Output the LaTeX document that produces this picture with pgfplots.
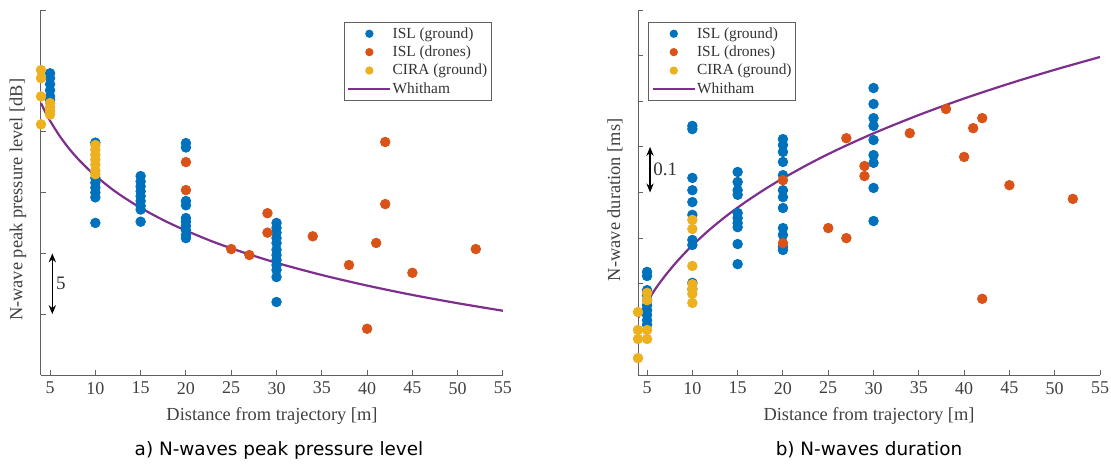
\documentclass[border=0pt]{standalone}
\usepackage{pgfplots}
\pgfplotsset{compat=1.18}
\usetikzlibrary{arrows.meta}
\usepackage{fontspec}
\setmainfont{Liberation Serif}
\newfontfamily\capfont{DejaVu Sans}

% MATLAB default colours
\definecolor{mblue}{rgb}{0,0.447,0.741}
\definecolor{morange}{rgb}{0.85,0.325,0.098}
\definecolor{myellow}{rgb}{0.929,0.694,0.125}
\definecolor{mpurple}{rgb}{0.494,0.184,0.556}
\definecolor{axgray}{rgb}{0.38,0.38,0.38}

\tikzset{
  dimarrow/.style={{Stealth[length=4.5pt,width=3.6pt]}-{Stealth[length=4.5pt,width=3.6pt]}, line width=0.7pt},
}

\pgfplotsset{
  matax/.style={
    scale only axis,
    width=231pt, height=182.5pt,
    xmin=4, xmax=55,
    enlargelimits=false,
    axis lines=left,
    axis line style={-, axgray, line width=0.5pt},
    major tick style={axgray, line width=0.5pt},
    major tick length=2.5pt,
    tick align=inside,
    xtick={5,10,...,55},
    tick label style={font=\fontsize{9}{10}\selectfont, text=black!75,
      /pgf/number format/assume math mode=true},
    label style={font=\fontsize{9.2}{10}\selectfont, text=black!75},
    xlabel={Distance from trajectory [m]},
    ylabel style={at={(axis description cs:-0.05,0.48)}, anchor=center, rotate=0},
    legend cell align=left,
    legend style={draw=axgray, line width=0.5pt, fill=white,
      font=\fontsize{7.7}{8}\selectfont, text=black!80,
      inner xsep=1.5pt, inner ysep=1pt, row sep=0pt,
      nodes={inner sep=0.6pt, text height=6.2pt, text depth=1.8pt}},
  },
  dots/.style={only marks, mark=*, mark size=2.4pt, color=#1,
    legend image code/.code={\draw[mark size=1.8pt] plot[mark=*, only marks] coordinates {(10.5pt,0pt)};}},
  whit/.style={mpurple, line width=1.1pt, no markers,
    legend image code/.code={\draw[mpurple, line width=1.1pt] (0pt,0pt) -- (21pt,0pt);}},
}

\begin{document}
\begin{tikzpicture}
\path[use as bounding box] (-20.5pt,-45.5pt) rectangle (535pt,187.5pt);

% a) peak pressure level
\begin{axis}[matax,
    name=left,
    at={(0pt,0pt)}, anchor=south west,
    ymin=0, ymax=30,
    ytick={0,5,...,30}, yticklabels={},
    ylabel={N-wave peak pressure level [dB]},
    legend style={at={(0.976,0.967)}, anchor=north east},
]
  \addplot[dots=mblue] coordinates {
    (5,24.8) (5,24.4) (5,23.9) (5,23.4) (5,22.9) (5,22.6)
    (10,19.1) (10,16.2) (10,15.8) (10,15.4) (10,15.0) (10,14.6) (10,12.5)
    (15,16.35) (15,15.9) (15,15.5) (15,15.1) (15,14.7) (15,14.3) (15,13.9) (15,13.6) (15,12.6)
    (20,19.06) (20,18.7) (20,14.3) (20,13.95) (20,12.9) (20,12.6) (20,12.25) (20,11.9) (20,11.5) (20,11.25)
    (30,12.5) (30,12.1) (30,11.7) (30,11.25) (30,10.85) (30,10.3) (30,9.86) (30,9.45) (30,9.04) (30,8.63) (30,8.05) (30,6.0)
  };
  \addlegendentry{ISL (ground)}
  \addplot[dots=morange] coordinates {
    (20,17.5) (20,15.2) (25,10.35) (27,9.86) (29,13.3) (29,11.7) (34,11.4)
    (38,9.04) (40,3.8) (41,10.85) (42,19.15) (42,14.05) (45,8.4) (52,10.35)
  };
  \addlegendentry{ISL (drones)}
  \addplot[dots=myellow] coordinates {
    (4,25.06) (4,24.4) (4,22.9) (4,20.6)
    (5,22.35) (5,22.0) (5,21.7) (5,21.4)
    (10,18.9) (10,18.5) (10,18.1) (10,17.7) (10,17.3) (10,16.8) (10,16.5)
  };
  \addlegendentry{CIRA (ground)}
  \addplot[whit, smooth] coordinates {
    (4,22.35) (4.5,21.58) (5,20.90) (6,19.71) (7,18.70) (8,17.83) (9,17.07)
    (10,16.38) (12,15.19) (14,14.19) (16,13.32) (18,12.55) (20,11.87) (23,10.95)
    (26,10.16) (30,9.22) (35,8.22) (40,7.35) (45,6.58) (50,5.90) (55,5.28)
  };
  \addlegendentry{Whitham}
  \draw[dimarrow] (axis cs:5.25,10) -- (axis cs:5.25,5);
  \node[font=\fontsize{9.5}{10}\selectfont, text=black!80] at (axis cs:6.2,7.5) {5};
\end{axis}

% b) duration
\begin{axis}[matax,
    name=right,
    at={(298.5pt,0pt)}, anchor=south west,
    ymin=0, ymax=0.8,
    ytick={0,0.1,...,0.8}, yticklabels={},
    ylabel={N-wave duration [ms]},
    legend style={at={(0.022,0.967)}, anchor=north west},
]
  \addplot[dots=mblue] coordinates {
    (5,0.226) (5,0.217) (5,0.186) (5,0.175) (5,0.164) (5,0.153) (5,0.142) (5,0.1315) (5,0.12) (5,0.11)
    (10,0.546) (10,0.539) (10,0.432) (10,0.405) (10,0.379) (10,0.351) (10,0.296) (10,0.285) (10,0.202) (10,0.188)
    (15,0.445) (15,0.423) (15,0.405) (15,0.395) (15,0.355) (15,0.344) (15,0.333) (15,0.324) (15,0.287) (15,0.243)
    (20,0.517) (20,0.504) (20,0.489) (20,0.467) (20,0.438) (20,0.405) (20,0.39) (20,0.366) (20,0.322) (20,0.307) (20,0.281) (20,0.274)
    (30,0.629) (30,0.594) (30,0.563) (30,0.546) (30,0.515) (30,0.482) (30,0.465) (30,0.41) (30,0.3375)
  };
  \addlegendentry{ISL (ground)}
  \addplot[dots=morange] coordinates {
    (20,0.427) (20,0.289) (25,0.322) (27,0.519) (27,0.30) (29,0.458) (29,0.436)
    (34,0.53) (38,0.583) (40,0.478) (41,0.541) (42,0.563) (42,0.167) (45,0.416) (52,0.386)
  };
  \addlegendentry{ISL (drones)}
  \addplot[dots=myellow] coordinates {
    (4,0.138) (4,0.0986) (4,0.079) (4,0.037)
    (5,0.18) (5,0.164) (5,0.0986) (5,0.079)
    (10,0.34) (10,0.32) (10,0.239) (10,0.199) (10,0.188) (10,0.178) (10,0.158)
  };
  \addlegendentry{CIRA (ground)}
  \addplot[whit, smooth] coordinates {
    (4,0.125) (4.5,0.1435) (5,0.1605) (6,0.191) (7,0.2178) (8,0.2419) (9,0.2639)
    (10,0.2841) (12,0.3203) (14,0.3523) (16,0.381) (18,0.4071) (20,0.4311) (23,0.464)
    (26,0.4938) (30,0.5297) (35,0.5699) (40,0.606) (45,0.6388) (50,0.669) (55,0.697)
  };
  \addlegendentry{Whitham}
  \draw[dimarrow] (axis cs:5.33,0.5) -- (axis cs:5.33,0.4);
  \node[font=\fontsize{9.5}{10}\selectfont, text=black!80] at (axis cs:7.0,0.45) {0.1};
\end{axis}

\node[font=\capfont\fontsize{9.2}{11}\selectfont] at (119pt,-37.5pt) {a) N-waves peak pressure level};
\node[font=\capfont\fontsize{9.2}{11}\selectfont] at (414pt,-37.5pt) {b) N-waves duration};
\end{tikzpicture}
\end{document}
